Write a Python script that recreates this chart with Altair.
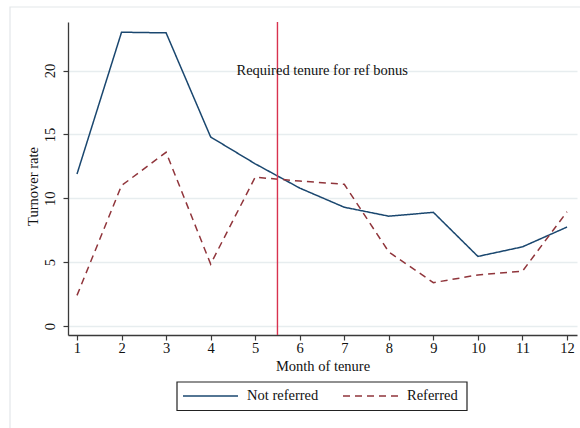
import altair as alt
import pandas as pd

# Monthly turnover rates by referral status
months = list(range(1, 13))
not_referred = [11.9, 23.0, 22.95, 14.8, 12.7, 10.8, 9.3, 8.6, 8.9, 5.45, 6.2, 7.75]
referred = [2.4, 11.0, 13.6, 4.85, 11.65, 11.35, 11.1, 5.8, 3.4, 4.0, 4.3, 8.95]
series_names = ["Not referred", "Referred"]

# Tenure threshold for the referral bonus, and its annotation
bonus_month = [5.5]
bonus_label = ["Required tenure for ref bonus"]
bonus_label_x = [4.58]
bonus_label_y = [20]

y_ticks = [0, 5, 10, 15, 20]
x_ticks = months

FONT = "Liberation Serif"
FS = 14.5
NAVY = "#1a476f"
MAROON = "#90353b"
VLINE = "#d8324f"
GRID = "#e7edef"
AXIS = "#3a3a3a"

rows = []
for m, a, b in zip(months, not_referred, referred):
    rows.append({"month": m, "rate": a, "series": series_names[0]})
    rows.append({"month": m, "rate": b, "series": series_names[1]})
df = pd.DataFrame(rows)

x_scale = alt.Scale(domain=[0.798, 12.224], nice=False, zero=False)
y_scale = alt.Scale(domain=[-0.70, 23.80], nice=False, zero=False)

x_axis = alt.Axis(
    values=x_ticks, title="Month of tenure", grid=False,
    labelFont=FONT, labelFontSize=FS, labelColor="#111", labelPadding=1,
    labelAngle=0, labelBaseline="top",
    titleFont=FONT, titleFontSize=FS, titleFontWeight="normal", titleColor="#111",
    titleX=254.5, titleY=31, titleBaseline="middle", titleAlign="center",
    domainColor=AXIS, tickColor=AXIS, tickSize=5, domainWidth=1.3, tickWidth=1.2,
)
y_axis = alt.Axis(
    values=y_ticks, title="Turnover rate", grid=True, gridColor=GRID, gridWidth=1.3,
    labelFont=FONT, labelFontSize=FS, labelColor="#111", labelPadding=9,
    labelAngle=270, labelAlign="center", labelBaseline="alphabetic",
    titleFont=FONT, titleFontSize=FS, titleFontWeight="normal", titleColor="#111",
    titleAngle=270, titleX=-35, titleY=164, titleAlign="center", titleBaseline="middle",
    domainColor=AXIS, tickColor=AXIS, tickSize=5, domainWidth=1.3, tickWidth=1.2,
)

lines = alt.Chart(df).mark_line(strokeWidth=1.5).encode(
    x=alt.X("month:Q", scale=x_scale, axis=x_axis),
    y=alt.Y("rate:Q", scale=y_scale, axis=y_axis),
    color=alt.Color("series:N", scale=alt.Scale(domain=series_names, range=[NAVY, MAROON]), legend=None),
    strokeDash=alt.StrokeDash("series:N", scale=alt.Scale(domain=series_names, range=[[1, 0], [7, 5]]), legend=None),
)

vline = alt.Chart(pd.DataFrame({"m": bonus_month})).mark_rule(color=VLINE, strokeWidth=1.4).encode(
    x=alt.X("m:Q", scale=x_scale)
)

note = alt.Chart(pd.DataFrame({"x": bonus_label_x, "y": bonus_label_y, "t": bonus_label})).mark_text(
    font=FONT, fontSize=FS, align="left", baseline="middle", color="#111"
).encode(
    x=alt.X("x:Q", scale=x_scale), y=alt.Y("y:Q", scale=y_scale), text="t:N"
)

# Outer frame around the whole figure
frame = alt.Chart(pd.DataFrame({"k": [0]})).mark_rect(
    fill=None, stroke="#e3e7e9", strokeWidth=1.2
).encode(x=alt.value(-58), x2=alt.value(620), y=alt.value(-15), y2=alt.value(500))

# Legend box beneath the plot
legend_box = alt.Chart(pd.DataFrame({"k": [0]})).mark_rect(
    fill="white", stroke="#222", strokeWidth=1.2
).encode(x=alt.value(109), x2=alt.value(399), y=alt.value(360), y2=alt.value(388.5))

key_a = alt.Chart(pd.DataFrame({"s": [series_names[0]]})).mark_rule(
    color=NAVY, strokeWidth=1.5
).encode(x=alt.value(115), x2=alt.value(170), y=alt.value(374))
key_b = alt.Chart(pd.DataFrame({"s": [series_names[1]]})).mark_rule(
    color=MAROON, strokeWidth=1.5, strokeDash=[7, 5]
).encode(x=alt.value(275), x2=alt.value(332), y=alt.value(374))
lab_a = alt.Chart(pd.DataFrame({"s": [series_names[0]]})).mark_text(
    font=FONT, fontSize=FS, align="left", baseline="middle", color="#111"
).encode(x=alt.value(179), y=alt.value(374), text="s:N")
lab_b = alt.Chart(pd.DataFrame({"s": [series_names[1]]})).mark_text(
    font=FONT, fontSize=FS, align="left", baseline="middle", color="#111"
).encode(x=alt.value(339), y=alt.value(374), text="s:N")

chart = alt.layer(
    frame, lines, vline, note, legend_box, key_a, key_b, lab_a, lab_b
).properties(
    width=509, height=313,
    autosize=alt.AutoSizeParams(type="none"),
    padding={"left": 68, "top": 22, "right": 3, "bottom": 93},
    background="white",
).configure_view(stroke=None)

chart.save("out.html", embed_options={"renderer": "svg", "actions": False})
